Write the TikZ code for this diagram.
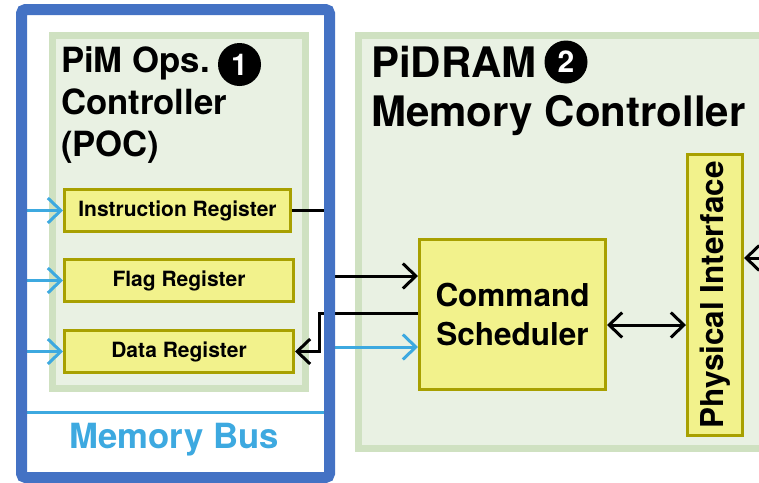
\documentclass[tikz,border=0pt]{standalone}
\usepackage{fontspec}
\setmainfont{TeX Gyre Heros}
\usetikzlibrary{arrows.meta}
\definecolor{bluebox}{RGB}{68,114,196}
\definecolor{lblue}{RGB}{61,169,224}
\definecolor{gborder}{RGB}{207,225,193}
\definecolor{gfill}{RGB}{233,241,227}
\definecolor{yfill}{RGB}{242,242,140}
\definecolor{yborder}{RGB}{168,160,0}
\tikzset{
  reg/.style={draw=yborder, fill=yfill, line width=3pt, inner sep=0pt,
    font=\fontsize{21}{24}\selectfont\bfseries},
  title/.style={anchor=base west, inner sep=0pt, text=black},
  numcirc/.style={circle, fill=black, text=white, inner sep=0pt, minimum size=43pt,
    font=\fontsize{30}{30}\selectfont\bfseries},
  karrow/.style={draw=black, line width=3pt, -{Straight Barb[length=13pt,width=25pt]}},
  kline/.style={draw=black, line width=3pt},
  barrow/.style={draw=lblue, line width=3pt, -{Straight Barb[length=13pt,width=25pt]}},
}
\begin{document}
\begin{tikzpicture}[x=1pt,y=-1pt]
\useasboundingbox (0,0) rectangle (759,482);
% green containers
\fill[gborder] (49,32) rectangle (309,392);
\fill[gfill] (56,39) rectangle (302,385);
\fill[gborder] (355,32) rectangle (759,452);
\fill[gfill] (362,39) rectangle (759,445);
% titles
\node[title, font=\fontsize{34.7}{42}\selectfont\bfseries] (poc1) at (61,72) {PiM Ops.};
\node[title, font=\fontsize{34.7}{42}\selectfont\bfseries] (poc2) at (61,114) {Controller};
\node[title, font=\fontsize{34.7}{42}\selectfont\bfseries] (poc3) at (61,156) {(POC)};
\node[numcirc] (n1) at (239.5,64.5) {1};
\node[title, font=\fontsize{42}{50}\selectfont\bfseries] (pd1) at (371,77) {PiDRAM};
\node[title, font=\fontsize{42}{50}\selectfont\bfseries] (pd2) at (371,126) {Memory Controller};
\node[numcirc, minimum size=43pt] (n2) at (566,62) {2};
% registers
\node[reg, minimum width=226pt, minimum height=42pt] (ir) at (177.5,210.5) {Instruction Register};
\node[reg, minimum width=229pt, minimum height=42pt] (fr) at (179,280.5) {Flag Register};
\node[reg, minimum width=229pt, minimum height=42pt] (dr) at (179,351.5) {Data Register};
% command scheduler and physical interface
\node[reg, minimum width=186pt, minimum height=150pt, align=center,
  font=\fontsize{31.5}{39}\selectfont\bfseries] (cs) at (512.5,314.5) {Command\\Scheduler};
\node[reg, minimum width=55pt, minimum height=281pt,
  font=\fontsize{31.5}{36}\selectfont\bfseries] (pi) at (715,295) {};
\node[rotate=90, inner sep=0pt, font=\fontsize{31.5}{36}\selectfont\bfseries] (pit) at (pi.center) {Physical Interface};
% connectors
\coordinate (inI) at (27,210.5);
\coordinate (inF) at (27,280.5);
\coordinate (inD) at (27,351.5);
\draw[barrow] (inI) -- (ir.west);
\draw[barrow] (inF) -- (fr.west);
\draw[barrow] (inD) -- (dr.west);
\coordinate (irEnd) at (326,210.5);
\draw[kline] (ir.east) -- (irEnd);
\coordinate (fo) at (335,276);
\draw[karrow] (fo) -- (fo -| cs.west);
\coordinate (bend) at (319,313);
\draw[karrow] (cs.west |- bend) -- (bend) |- (dr.east);
\coordinate (bo) at (335,347);
\draw[barrow] (bo) -- (bo -| cs.west);
\draw[draw=black, line width=3pt, {Straight Barb[length=13pt,width=25pt]}-{Straight Barb[length=13pt,width=25pt]}]
  ([yshift=-10.5pt]cs.east) -- ([yshift=-10.5pt]cs.east -| pi.west);
\coordinate (ext) at (765,258);
\draw[karrow] (ext) -- (ext -| pi.east);
% memory bus
\coordinate (mbL) at (27,412);
\coordinate (mbR) at (324,412);
\draw[lblue, line width=3pt] (mbL) -- (mbR);
\node[anchor=base, inner sep=0pt, text=lblue, font=\fontsize{34.7}{42}\selectfont\bfseries] (mb) at (174,448) {Memory Bus};
% outer blue box
\draw[bluebox, line width=11pt, rounded corners=4pt] (21.5,9.5) rectangle (329.5,477.5);
\end{tikzpicture}
\end{document}
